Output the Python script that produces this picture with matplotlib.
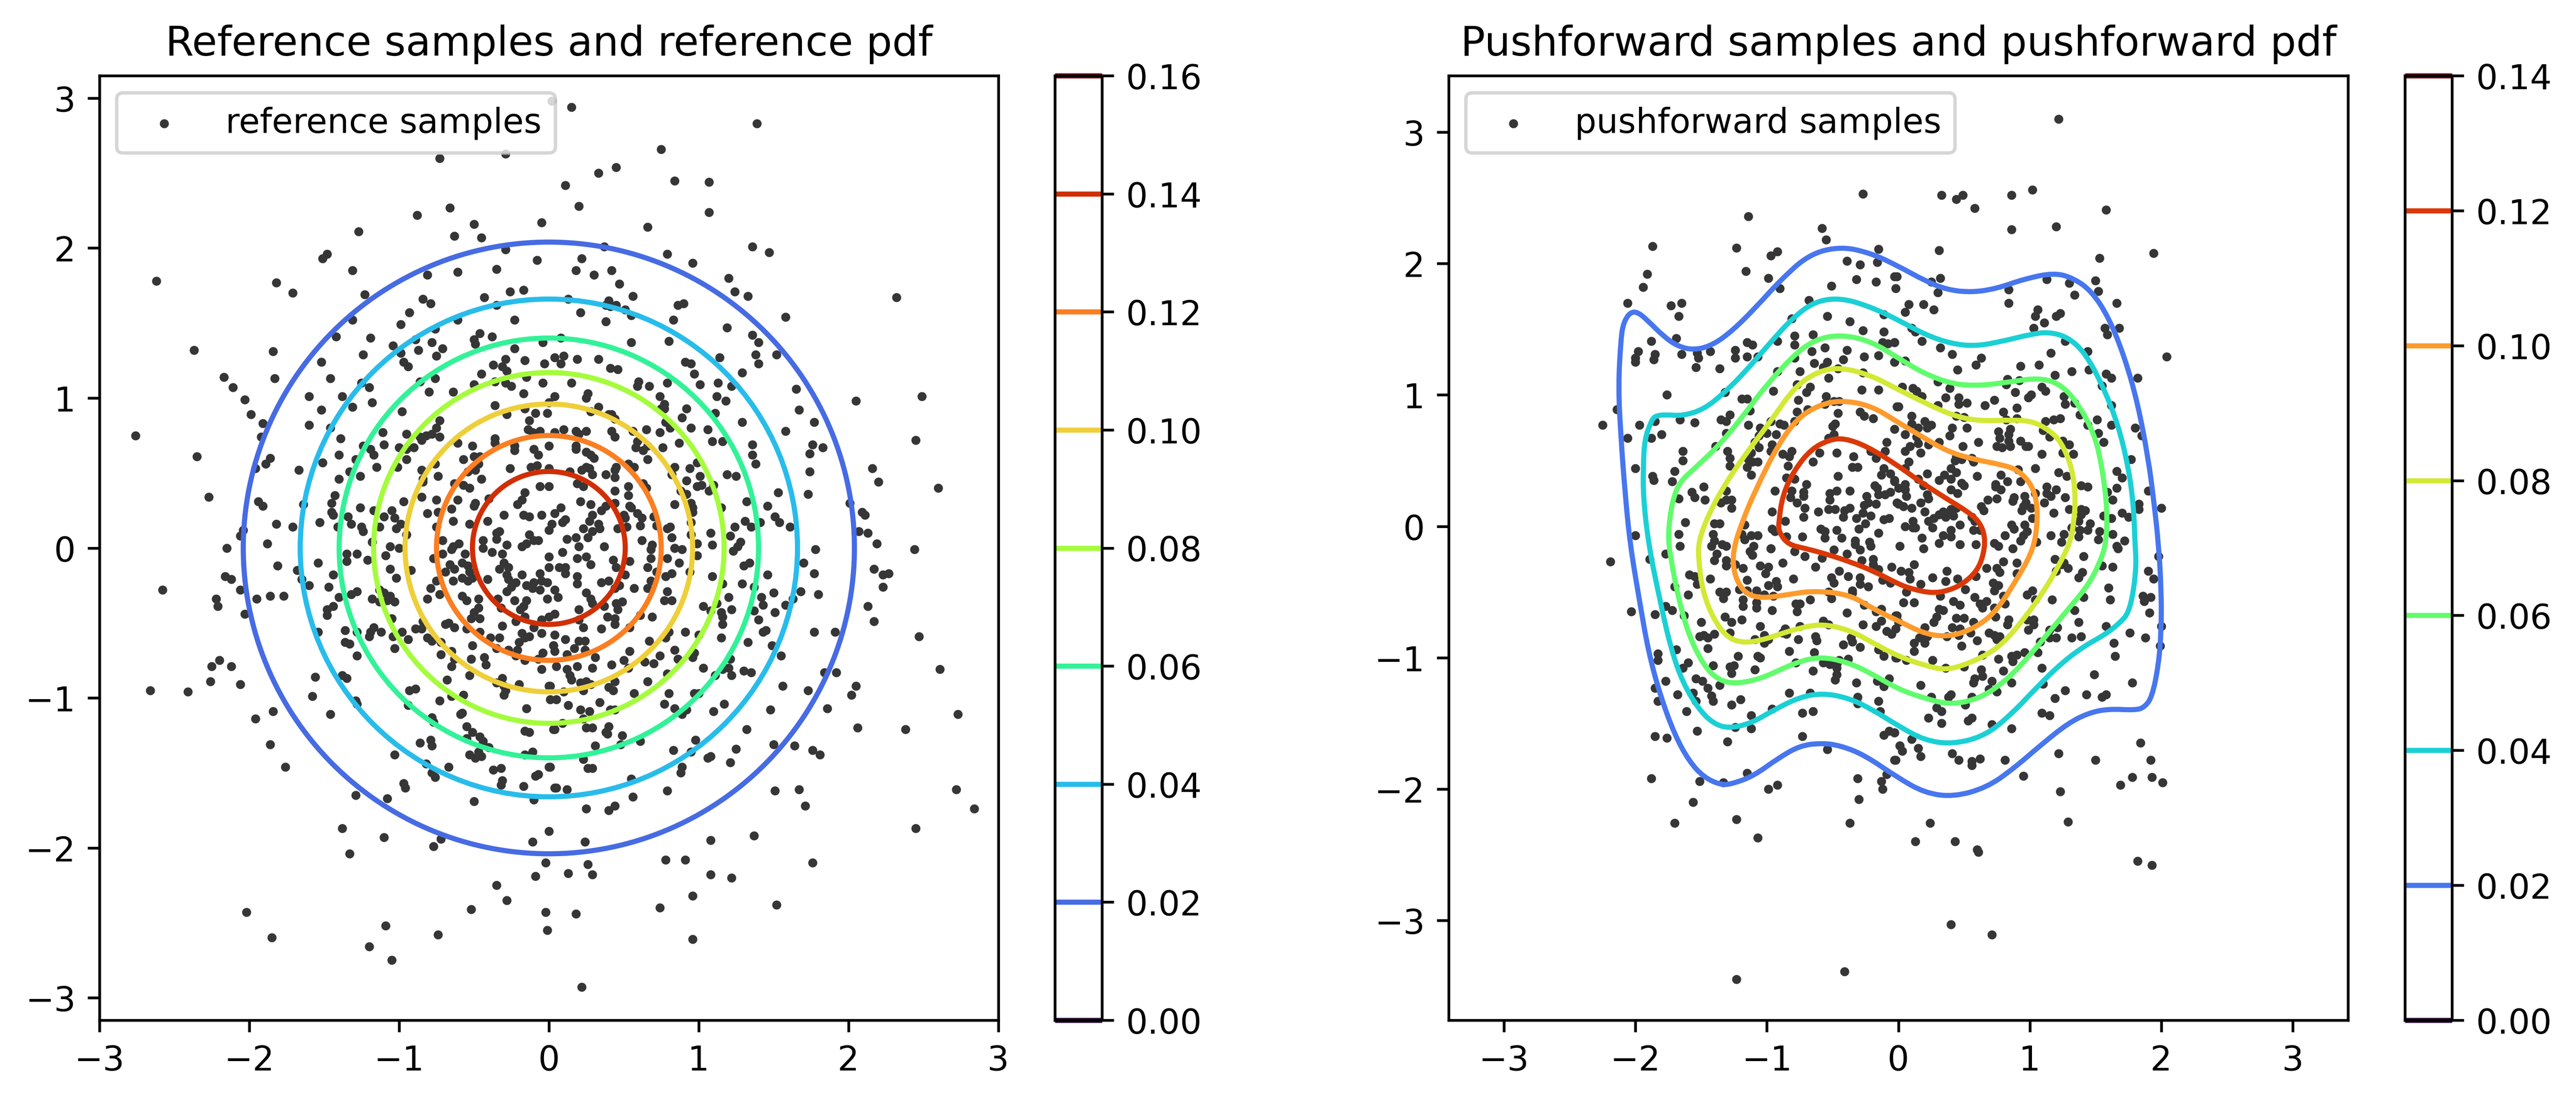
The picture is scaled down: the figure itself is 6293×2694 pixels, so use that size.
import numpy as np
import matplotlib
matplotlib.use('Agg')
import matplotlib.pyplot as plt
from matplotlib.patches import Circle, PathPatch
from matplotlib.path import Path

# contour levels and colourbar ticks
ref_levels = [0.00, 0.02, 0.04, 0.06, 0.08, 0.10, 0.12, 0.14, 0.16]
pf_levels = [0.00, 0.02, 0.04, 0.06, 0.08, 0.10, 0.12, 0.14]
# radius of each reference contour (levels 0.02 .. 0.14)
ref_radii = [2.04, 1.66, 1.40, 1.17, 0.96, 0.75, 0.51]

# reference samples
ref_upper_left = [(-0.73,2.60),(-0.29,2.63),(-0.66,2.27),(-0.88,2.22),(-0.50,2.16),(-0.05,2.17),(-1.27,2.11),(-0.63,2.08),(-0.45,2.07),(-1.48,1.96),(-1.51,1.93),(-0.29,1.99),(-0.08,1.92),(-1.31,1.85),(-0.35,1.86),(-0.61,1.84),(-0.81,1.82),(-2.62,1.78),(-1.82,1.77),(-1.71,1.70),(-1.23,1.69),(-0.84,1.66),(-0.79,1.63),(-0.43,1.67),(-0.26,1.71),(-0.17,1.72),(-0.35,1.62),(-0.93,1.57),(-1.31,1.52),(-0.99,1.49),(-0.61,1.52),(-0.23,1.52),(-0.76,1.46),(-1.42,1.41),(-1.19,1.40),(-0.46,1.43),(-0.38,1.41),(-0.50,1.39),(-0.49,1.36),(-0.89,1.39),(-0.78,1.37),(-0.71,1.33),(-0.04,1.37),(-0.23,1.33),(-2.37,1.32),(-1.84,1.31),(-1.04,1.35),(-0.87,1.32),(-1.24,1.29),(-0.99,1.30),(-0.75,1.28),(-1.52,1.24),(-0.97,1.24),(-0.94,1.21),(-0.29,1.26),(-0.16,1.25),(-0.03,1.23),(-0.37,1.22),(-0.31,1.21),(-0.28,1.18),(-2.17,1.14),(-0.45,1.16),(-1.46,1.13),(-1.83,1.13),(-0.76,1.13),(-0.15,1.14),(-0.86,1.11),(-1.25,1.10),(-0.36,1.11),(-0.29,1.10),(-0.50,1.09),(-0.25,1.08),(-0.04,1.10),(-2.11,1.07),(-1.20,1.07),(-0.80,1.04),(-0.64,1.04),(-0.17,1.03),(-1.60,1.01),(-1.38,1.01),(-2.03,0.99),(-1.52,0.92),(-1.31,0.94),(-1.18,0.97),(0.00,0.97),(-0.36,0.95),(-0.16,0.93),(-0.98,0.91),(-1.99,0.89),(-0.28,0.89),(-0.09,0.90),(-0.01,0.90),(-0.13,0.85),(-0.73,0.85),(-1.91,0.83),(-1.60,0.82),(-0.75,0.80),(-1.46,0.80),(-1.11,0.77),(-0.95,0.76),(-0.14,0.79),(-0.06,0.78),(-0.11,0.77),(-2.76,0.75),(-0.78,0.76),(-0.82,0.75),(-0.86,0.74),(-0.73,0.74),(-0.85,0.72),(-1.92,0.74),(-1.39,0.73),(-0.36,0.73),(-0.36,0.70),(-0.61,0.70),(-1.10,0.69),(-0.51,0.68),(-0.23,0.68),(0.00,0.68),(-1.24,0.68),(-1.00,0.67),(-1.19,0.66),(-0.90,0.67),(-0.23,0.65),(-0.95,0.66),(-0.10,0.66),(-1.17,0.62),(-1.40,0.62),(-2.35,0.61),(-0.07,0.62),(-0.50,0.61),(-0.46,0.61),(-1.86,0.60),(-1.29,0.59),(-0.95,0.59),(-0.57,0.59),(-1.89,0.56),(-1.51,0.57),(-0.76,0.56),(-0.47,0.56),(-1.01,0.54),(-1.15,0.54),(-1.96,0.53),(-0.54,0.51),(-0.49,0.52),(-0.12,0.54),(-0.08,0.55),(0.00,0.53),(-0.26,0.53),(-1.67,0.52),(-0.85,0.52),(-1.33,0.51),(-1.26,0.48),(-0.74,0.48),(-0.45,0.46),(-1.40,0.46),(-0.84,0.46),(-0.84,0.44),(-0.63,0.43),(-0.57,0.42),(-0.53,0.40),(-0.06,0.41),(0.00,0.41),(-1.43,0.35),(-0.16,0.37),(-2.27,0.34),(-0.85,0.34),(-0.40,0.33),(-1.45,0.30),(-1.94,0.31),(-0.75,0.32),(-0.61,0.32),(-0.18,0.32),(-0.97,0.31),(-1.91,0.28),(-1.64,0.29),(-0.49,0.30),(-0.50,0.28),(-0.21,0.29),(-1.26,0.27),(-1.17,0.25),(-1.05,0.25),(-0.65,0.26),(-0.74,0.24),(-1.45,0.24),(-1.44,0.22),(-0.81,0.23),(-0.30,0.22),(-0.17,0.22),(-0.05,0.22),(-0.13,0.21),(-1.34,0.21),(-1.10,0.21),(-1.03,0.20),(-0.64,0.18),(-0.41,0.18),(-1.32,0.16),(-1.82,0.16),(-1.71,0.14),(-1.53,0.17),(-0.99,0.16),(-0.53,0.16),(-1.41,0.14),(-1.13,0.14),(-1.25,0.14),(-1.02,0.13),(-0.75,0.14),(-2.04,0.12),(-1.24,0.11),(-0.33,0.11),(-0.35,0.10),(-0.95,0.09),(0.00,0.12),(-2.06,0.08),(-0.13,0.09),(-0.44,0.05),(-0.35,0.06),(-0.71,0.05),(-0.60,0.03),(-1.88,0.03),(-1.18,0.04),(-1.06,0.01),(-0.15,0.03),(-0.07,0.05),(-0.10,0.05),(-1.00,0.00),(-0.28,0.02),(-0.64,0.01),(-0.18,0.01)]
ref_upper_right = [(0.02,2.98),(0.15,2.94),(1.39,2.83),(0.75,2.66),(0.45,2.54),(0.33,2.50),(0.11,2.42),(0.84,2.45),(1.07,2.44),(0.20,2.28),(1.07,2.24),(0.66,2.14),(1.36,2.01),(1.47,1.97),(0.37,2.01),(0.79,1.96),(0.22,1.93),(0.96,1.90),(0.18,1.85),(0.30,1.82),(0.42,1.85),(1.20,1.80),(0.47,1.76),(1.24,1.71),(0.56,1.68),(1.33,1.68),(2.32,1.67),(0.13,1.66),(0.40,1.65),(0.38,1.62),(0.45,1.62),(0.41,1.61),(0.51,1.59),(0.86,1.62),(0.90,1.63),(0.21,1.57),(0.55,1.55),(1.58,1.54),(0.38,1.51),(0.83,1.52),(1.19,1.47),(1.36,1.42),(0.08,1.40),(0.55,1.37),(0.80,1.38),(1.40,1.37),(1.38,1.29),(1.52,1.29),(1.14,1.27),(0.04,1.27),(0.10,1.28),(0.19,1.26),(0.33,1.26),(0.08,1.23),(0.91,1.24),(0.95,1.23),(1.40,1.23),(0.41,1.20),(0.46,1.19),(1.29,1.17),(0.97,1.16),(0.15,1.10),(0.60,1.11),(0.59,1.08),(0.67,1.08),(0.79,1.10),(1.01,1.09),(1.13,1.10),(1.22,1.08),(1.65,1.06),(0.26,1.03),(0.25,1.00),(0.04,1.01),(0.74,1.01),(1.12,1.01),(2.49,1.01),(2.05,0.98),(1.18,0.98),(0.77,0.96),(0.33,0.94),(0.92,0.93),(0.75,0.93),(0.77,0.93),(1.67,0.92),(0.28,0.91),(1.11,0.90),(0.40,0.89),(0.42,0.89),(0.44,0.86),(0.89,0.87),(1.77,0.84),(1.29,0.84),(0.78,0.84),(0.18,0.78),(0.25,0.78),(0.10,0.79),(0.04,0.77),(0.42,0.78),(0.56,0.78),(0.65,0.79),(0.74,0.77),(0.81,0.80),(0.95,0.80),(1.06,0.79),(1.58,0.78),(0.20,0.76),(0.44,0.74),(1.09,0.71),(1.16,0.71),(2.45,0.72),(0.87,0.70),(0.59,0.71),(1.36,0.69),(1.76,0.69),(0.66,0.68),(1.83,0.67),(0.18,0.68),(0.58,0.67),(0.76,0.67),(0.18,0.66),(0.63,0.65),(0.25,0.64),(0.28,0.62),(1.74,0.63),(0.30,0.60),(1.36,0.62),(0.66,0.59),(1.38,0.56),(0.53,0.56),(0.57,0.54),(0.99,0.57),(0.84,0.54),(0.94,0.53),(2.16,0.53),(0.25,0.54),(0.45,0.54),(0.27,0.53),(0.44,0.52),(0.22,0.52),(0.14,0.51),(1.74,0.51),(0.38,0.49),(0.29,0.49),(0.44,0.47),(0.82,0.49),(1.01,0.48),(1.19,0.49),(1.25,0.48),(0.92,0.45),(2.20,0.44),(0.19,0.43),(0.63,0.43),(1.10,0.42),(1.02,0.42),(0.23,0.41),(0.53,0.41),(0.65,0.40),(0.99,0.41),(0.88,0.38),(1.07,0.38),(0.44,0.38),(2.60,0.40),(1.53,0.37),(0.92,0.36),(1.73,0.36),(0.53,0.35),(0.21,0.31),(0.44,0.30),(0.28,0.29),(1.32,0.31),(2.01,0.30),(0.84,0.29),(0.95,0.30),(0.38,0.28),(0.54,0.28),(0.96,0.27),(0.08,0.27),(1.46,0.28),(1.15,0.27),(0.55,0.27),(0.96,0.24),(0.35,0.25),(2.09,0.24),(0.29,0.22),(0.04,0.23),(0.50,0.22),(0.59,0.23),(2.11,0.22),(0.51,0.20),(0.70,0.21),(1.51,0.21),(0.62,0.20),(0.27,0.18),(0.11,0.19),(0.09,0.17),(1.41,0.17),(1.31,0.18),(0.02,0.16),(1.54,0.17),(0.95,0.17),(0.33,0.16),(0.61,0.15),(0.72,0.15),(0.81,0.14),(0.79,0.13),(0.52,0.14),(1.24,0.14),(1.35,0.14),(1.61,0.14),(0.23,0.13),(0.34,0.13),(0.46,0.13),(2.07,0.11),(2.13,0.10),(0.29,0.11),(1.08,0.10),(0.95,0.09),(1.21,0.08),(0.82,0.07),(0.26,0.07),(0.18,0.07),(0.12,0.06),(0.62,0.05),(2.19,0.03),(1.28,0.04),(0.99,0.03),(0.69,0.02),(1.26,0.01),(1.09,0.02),(0.37,0.01),(0.20,0.01),(0.84,0.00)]
ref_lower_left = [(-2.15,0.00),(-1.35,-0.04),(-1.28,-0.04),(-1.09,-0.05),(-1.35,-0.09),(-1.21,-0.08),(-1.54,-0.10),(-1.81,-0.12),(-0.56,-0.04),(-0.44,0.00),(-0.38,-0.03),(-0.31,-0.04),(-0.77,-0.07),(-0.71,-0.04),(-0.65,-0.01),(0.00,-0.06),(-1.06,-0.14),(-0.66,-0.11),(-0.58,-0.10),(-0.54,-0.12),(-0.30,-0.10),(0.00,-0.13),(-0.63,-0.14),(-0.92,-0.15),(-0.69,-0.16),(-1.68,-0.15),(-0.27,-0.13),(-0.33,-0.14),(-0.53,-0.16),(-1.44,-0.18),(-0.18,-0.18),(-0.06,-0.17),(-0.28,-0.18),(-1.02,-0.20),(-2.16,-0.19),(-2.12,-0.21),(-1.65,-0.21),(-0.58,-0.20),(-0.51,-0.20),(-0.41,-0.21),(-0.64,-0.22),(-0.75,-0.22),(-0.54,-0.22),(-0.27,-0.21),(-0.10,-0.23),(-0.05,-0.22),(-0.01,-0.23),(-0.22,-0.23),(-1.60,-0.25),(-0.15,-0.25),(-0.25,-0.26),(-0.11,-0.27),(-0.06,-0.28),(-1.47,-0.26),(-0.79,-0.27),(-2.06,-0.28),(-2.58,-0.28),(-0.28,-0.29),(-1.28,-0.29),(-1.13,-0.28),(-1.32,-0.31),(-0.73,-0.31),(-1.06,-0.32),(-1.10,-0.30),(-1.86,-0.32),(-1.77,-0.32),(-1.95,-0.34),(-1.40,-0.33),(-2.22,-0.34),(-1.18,-0.34),(-0.81,-0.34),(-0.47,-0.34),(-0.58,-0.32),(-0.55,-0.35),(-0.34,-0.34),(-0.01,-0.34),(-0.15,-0.35),(-0.23,-0.35),(-1.08,-0.35),(-1.13,-0.36),(-1.03,-0.36),(-2.21,-0.39),(-1.44,-0.39),(-1.48,-0.41),(-0.32,-0.40),(-0.47,-0.40),(-0.17,-0.39),(-0.19,-0.41),(-2.03,-0.44),(-0.50,-0.43),(-1.48,-0.45),(-1.05,-0.47),(-0.52,-0.47),(-0.46,-0.47),(-0.16,-0.46),(0.00,-0.46),(-0.22,-0.49),(-0.05,-0.48),(-0.84,-0.49),(-0.69,-0.51),(-0.67,-0.50),(-0.31,-0.52),(-0.63,-0.53),(-0.55,-0.54),(-0.10,-0.53),(-0.85,-0.54),(-0.89,-0.54),(-1.17,-0.53),(-1.36,-0.55),(-1.19,-0.56),(-1.28,-0.56),(-1.54,-0.56),(-1.12,-0.56),(-0.98,-0.56),(-0.46,-0.56),(-0.18,-0.57),(-0.05,-0.57),(-1.20,-0.59),(-1.04,-0.59),(-0.13,-0.59),(-0.81,-0.60),(-0.78,-0.62),(-0.94,-0.61),(-0.39,-0.60),(-0.33,-0.60),(-0.16,-0.60),(-1.36,-0.63),(-1.33,-0.64),(-0.72,-0.63),(-0.20,-0.63),(-0.51,-0.65),(0.03,-0.65),(-1.03,-0.67),(-0.35,-0.67),(-0.21,-0.68),(-0.65,-0.69),(-0.27,-0.68),(-0.04,-0.70),(-1.28,-0.72),(-0.72,-0.71),(-0.22,-0.72),(-0.43,-0.73),(-0.63,-0.74),(-0.52,-0.74),(-0.16,-0.75),(-0.07,-0.74),(-2.20,-0.75),(-2.25,-0.79),(-2.12,-0.79),(-0.42,-0.78),(-0.65,-0.79),(-0.05,-0.81),(-1.38,-0.85),(-0.53,-0.85),(-1.56,-0.86),(-1.35,-0.87),(-0.31,-0.87),(-0.68,-0.88),(-2.26,-0.89),(-0.35,-0.90),(-0.20,-0.91),(-2.06,-0.91),(0.00,-0.92),(-0.30,-0.92),(-0.89,-0.94),(-0.93,-0.95),(-2.66,-0.95),(-2.41,-0.96),(-0.29,-0.95),(-0.30,-0.98),(-1.58,-0.99),(-0.65,-0.99),(-0.57,-0.98),(-1.29,-1.02),(-0.73,-1.02),(-1.28,-1.04),(-0.94,-1.05),(-0.15,-1.07),(0.01,-1.01),(-1.46,-1.11),(-0.58,-1.10),(-0.59,-1.11),(-0.78,-1.13),(-1.84,-1.09),(-1.96,-1.14),(-0.77,-1.16),(-0.55,-1.19),(0.03,-1.21),(-0.16,-1.22),(-0.13,-1.23),(-0.51,-1.23),(-0.46,-1.26),(-0.79,-1.28),(-0.86,-1.30),(-0.55,-1.27),(-0.44,-1.29),(-0.78,-1.32),(-1.86,-1.31),(-0.40,-1.33),(-0.11,-1.36),(-0.47,-1.36),(-0.16,-1.38),(-0.53,-1.38),(-1.03,-1.38),(-0.45,-1.39),(-0.49,-1.40),(-0.82,-1.44),(-0.67,-1.46),(-1.76,-1.46),(0.00,-1.46),(-0.32,-1.47),(-0.37,-1.48),(-0.78,-1.50),(-0.76,-1.53),(-0.07,-1.51),(-0.09,-1.52),(-0.31,-1.55),(-0.97,-1.57),(-0.32,-1.58),(-0.17,-1.59),(-0.96,-1.60),(0.04,-1.60),(-1.29,-1.65),(-1.08,-1.67),(-0.10,-1.68),(-0.50,-1.69),(-1.38,-1.87),(0.00,-1.89),(-1.10,-1.93),(-0.72,-1.94),(-0.11,-1.96),(-0.77,-1.99),(-1.33,-2.04),(-0.02,-2.10),(-0.09,-2.19),(-0.35,-2.25),(-0.28,-2.35),(-0.52,-2.41),(-2.02,-2.43),(-0.02,-2.43),(-1.09,-2.52),(-0.01,-2.55),(-0.74,-2.58),(-1.85,-2.60),(-1.20,-2.66),(-1.05,-2.75)]
ref_lower_right = [(1.78,-0.01),(2.44,-0.01),(0.09,-0.03),(0.25,-0.06),(0.19,-0.07),(0.43,-0.08),(0.68,-0.01),(0.68,-0.07),(0.79,-0.07),(0.87,-0.10),(0.84,0.00),(0.89,-0.01),(0.99,-0.05),(1.23,-0.02),(1.70,-0.10),(0.28,-0.11),(0.54,-0.09),(0.07,-0.13),(0.11,-0.13),(0.45,-0.13),(0.66,-0.13),(1.34,-0.10),(1.30,-0.12),(2.17,-0.14),(0.11,-0.17),(0.19,-0.19),(0.72,-0.16),(0.82,-0.17),(0.78,-0.19),(0.94,-0.16),(1.46,-0.18),(1.77,-0.17),(2.27,-0.17),(2.23,-0.18),(1.09,-0.19),(0.51,-0.18),(0.40,-0.22),(0.35,-0.23),(0.68,-0.22),(0.19,-0.24),(1.16,-0.24),(1.29,-0.24),(1.37,-0.26),(2.23,-0.26),(0.47,-0.25),(0.44,-0.27),(0.57,-0.27),(0.66,-0.27),(0.04,-0.28),(0.25,-0.30),(0.79,-0.29),(1.50,-0.30),(1.68,-0.29),(0.06,-0.33),(0.28,-0.34),(1.20,-0.33),(1.42,-0.33),(1.80,-0.31),(0.77,-0.35),(0.82,-0.35),(0.49,-0.36),(0.45,-0.37),(0.29,-0.37),(1.12,-0.37),(1.63,-0.34),(1.43,-0.38),(1.58,-0.38),(2.13,-0.39),(1.03,-0.39),(0.37,-0.39),(1.22,-0.41),(0.20,-0.41),(0.46,-0.41),(1.37,-0.42),(1.51,-0.43),(1.08,-0.42),(1.15,-0.43),(0.04,-0.44),(1.16,-0.46),(0.61,-0.45),(0.69,-0.46),(0.39,-0.46),(0.44,-0.47),(1.40,-0.48),(0.20,-0.48),(2.17,-0.49),(0.44,-0.51),(1.16,-0.51),(0.23,-0.53),(0.35,-0.54),(0.54,-0.53),(1.45,-0.55),(1.43,-0.56),(1.77,-0.56),(1.91,-0.56),(0.91,-0.56),(0.80,-0.56),(0.04,-0.58),(2.47,-0.59),(0.78,-0.60),(1.00,-0.58),(1.15,-0.60),(0.11,-0.61),(0.20,-0.62),(0.24,-0.62),(0.67,-0.62),(1.33,-0.63),(0.03,-0.65),(1.49,-0.65),(0.17,-0.67),(0.24,-0.68),(0.84,-0.68),(0.54,-0.69),(0.04,-0.69),(0.97,-0.70),(0.12,-0.71),(1.55,-0.72),(0.74,-0.72),(0.96,-0.73),(0.31,-0.73),(0.86,-0.74),(0.50,-0.75),(1.21,-0.74),(0.64,-0.76),(0.42,-0.78),(0.70,-0.77),(0.05,-0.79),(2.61,-0.81),(0.19,-0.79),(0.12,-0.81),(0.29,-0.80),(1.20,-0.80),(1.16,-0.81),(0.53,-0.80),(1.03,-0.80),(1.92,-0.83),(1.30,-0.82),(1.35,-0.83),(1.84,-0.83),(0.79,-0.84),(1.22,-0.85),(1.11,-0.85),(0.14,-0.85),(0.15,-0.88),(0.44,-0.89),(0.66,-0.89),(0.25,-0.89),(0.21,-0.90),(0.28,-0.91),(0.01,-0.92),(0.40,-0.93),(2.05,-0.92),(0.43,-0.95),(0.23,-0.95),(1.56,-0.92),(1.73,-0.95),(0.10,-0.96),(0.80,-0.97),(0.57,-0.97),(2.02,-0.98),(0.97,-0.97),(1.00,-0.97),(0.05,-1.01),(0.34,-1.03),(0.77,-1.04),(0.13,-1.05),(1.17,-1.04),(1.86,-1.07),(0.84,-1.07),(0.92,-1.08),(0.21,-1.08),(1.10,-1.09),(1.48,-1.08),(0.41,-1.08),(0.44,-1.08),(0.27,-1.09),(0.89,-1.11),(2.73,-1.11),(0.23,-1.14),(0.09,-1.17),(0.25,-1.20),(0.29,-1.20),(0.04,-1.21),(0.40,-1.19),(2.06,-1.20),(2.38,-1.21),(1.32,-1.21),(0.38,-1.23),(0.39,-1.24),(0.49,-1.25),(0.61,-1.29),(0.98,-1.28),(0.31,-1.32),(0.48,-1.31),(1.50,-1.31),(1.64,-1.32),(0.83,-1.35),(1.25,-1.34),(0.95,-1.36),(1.76,-1.35),(1.81,-1.38),(1.08,-1.39),(1.06,-1.40),(0.23,-1.41),(1.21,-1.43),(0.01,-1.46),(0.89,-1.46),(0.29,-1.47),(0.26,-1.47),(0.88,-1.50),(0.55,-1.54),(0.05,-1.60),(0.12,-1.61),(2.72,-1.61),(1.51,-1.62),(1.67,-1.61),(0.79,-1.62),(0.56,-1.66),(1.71,-1.72),(0.44,-1.72),(0.25,-1.74),(0.40,-1.75),(2.84,-1.74),(2.45,-1.87),(1.37,-1.92),(1.08,-1.95),(0.24,-1.96),(0.91,-2.08),(0.78,-2.08),(1.76,-2.10),(0.26,-2.11),(0.13,-2.17),(0.29,-2.18),(1.08,-2.18),(1.22,-2.20),(0.96,-2.32),(0.74,-2.40),(1.52,-2.38),(0.18,-2.44),(0.96,-2.61),(0.22,-2.93)]

# pushforward samples
pf_upper_left = [(-0.27,2.53),(-1.14,2.36),(-0.58,2.27),(-0.55,2.18),(-1.87,2.13),(-1.23,2.12),(-0.92,2.09),(-0.97,2.06),(-0.15,2.11),(-0.39,2.02),(-0.29,1.99),(-0.16,2.01),(-1.91,1.92),(-1.16,1.94),(-0.99,1.89),(-0.03,1.90),(-0.32,1.88),(-0.17,1.86),(-1.94,1.82),(-0.90,1.81),(-0.51,1.83),(-0.02,1.81),(-2.06,1.70),(-1.73,1.68),(-1.65,1.70),(-0.68,1.72),(-1.67,1.60),(-0.11,1.61),(-0.54,1.60),(-0.81,1.58),(-0.37,1.56),(-0.27,1.49),(-0.11,1.48),(-0.65,1.46),(-0.79,1.45),(-1.69,1.43),(-1.88,1.41),(-0.92,1.41),(-0.79,1.38),(-1.15,1.40),(-1.11,1.38),(-0.12,1.40),(-0.08,1.39),(-0.03,1.40),(-1.24,1.34),(-1.98,1.33),(-1.53,1.32),(-1.43,1.33),(-0.56,1.36),(-0.39,1.34),(-1.85,1.31),(-1.65,1.31),(-0.66,1.33),(-2.00,1.28),(-1.52,1.28),(-1.15,1.29),(-1.07,1.29),(-1.24,1.28),(-0.26,1.29),(-0.15,1.30),(-0.79,1.28),(-1.86,1.27),(-2.00,1.25),(-0.42,1.27),(-0.03,1.25),(-0.54,1.25),(-0.64,1.24),(-1.54,1.21),(-1.36,1.20),(-0.57,1.21),(-0.46,1.20),(-0.75,1.18),(-0.92,1.18),(-0.27,1.17),(-0.53,1.13),(-0.77,1.08),(-0.67,1.06),(-0.95,1.03),(-0.70,1.02),(-0.28,1.04),(-0.15,1.04),(-1.32,1.02),(-1.76,1.00),(-0.55,0.99),(-1.19,0.97),(-1.15,0.97),(-0.76,0.96),(-0.56,0.93),(-0.49,0.95),(-0.45,0.95),(-0.01,0.91),(-2.14,0.89),(-0.69,0.89),(-1.13,0.88),(-0.77,0.87),(-0.29,0.87),(-1.28,0.85),(-0.46,0.86),(-0.26,0.84),(-1.85,0.80),(-1.66,0.81),(-1.55,0.79),(-1.35,0.81),(-1.31,0.80),(-0.97,0.80),(-0.79,0.80),(-0.19,0.82),(-2.25,0.77),(-1.97,0.77),(-1.14,0.77),(-0.90,0.78),(-0.87,0.77),(-0.48,0.78),(-1.05,0.75),(-0.50,0.76),(-0.03,0.74),(-1.80,0.70),(-1.31,0.71),(-1.00,0.71),(-0.93,0.70),(-1.06,0.69),(-0.49,0.70),(-2.06,0.67),(-1.88,0.67),(-0.53,0.67),(-0.09,0.64),(-1.09,0.64),(-1.39,0.61),(-0.96,0.62),(-1.06,0.60),(-0.97,0.57),(-1.64,0.57),(-1.30,0.57),(-1.12,0.56),(-0.60,0.56),(-0.47,0.56),(-0.21,0.57),(-0.81,0.57),(-0.88,0.55),(-0.10,0.57),(-0.83,0.53),(-0.34,0.53),(-0.17,0.52),(-1.28,0.52),(-1.64,0.50),(-1.14,0.51),(-1.07,0.49),(-1.11,0.49),(-0.65,0.49),(-0.84,0.46),(-1.28,0.46),(-1.15,0.45),(-0.31,0.45),(-0.35,0.45),(-2.00,0.44),(-0.11,0.44),(-1.70,0.42),(-0.13,0.39),(-1.12,0.39),(-0.06,0.40),(-0.46,0.38),(-1.87,0.38),(-0.85,0.37),(-0.79,0.36),(-1.86,0.35),(-1.72,0.34),(-0.03,0.34),(-0.70,0.32),(-1.48,0.30),(-0.18,0.31),(-0.16,0.29),(-1.31,0.27),(-1.57,0.26),(-0.94,0.27),(-0.81,0.27),(-0.72,0.26),(-0.47,0.27),(-0.37,0.27),(-0.52,0.25),(-0.15,0.24),(-0.10,0.24),(-0.06,0.26),(-1.55,0.22),(-1.67,0.21),(-0.82,0.22),(-0.72,0.23),(-0.24,0.23),(-1.47,0.20),(-0.52,0.20),(-1.27,0.20),(-1.31,0.20),(-0.77,0.18),(-1.35,0.18),(-0.23,0.18),(-0.26,0.16),(-0.17,0.17),(-0.01,0.18),(-1.27,0.14),(-0.71,0.14),(-0.53,0.13),(-0.48,0.13),(-0.37,0.14),(-0.41,0.12),(-0.96,0.11),(-0.61,0.11),(-0.27,0.10),(-0.21,0.08),(-0.42,0.07),(-0.72,0.07),(-0.32,0.06),(-0.11,0.05),(-0.07,0.06),(-0.86,0.04),(-1.62,0.03),(-1.40,0.02),(-1.36,0.02),(-0.25,0.02),(-0.30,-0.02),(-1.17,0.01),(-0.96,-0.02),(-0.59,-0.02),(-0.47,-0.03),(-0.15,-0.05),(-1.67,-0.06),(-0.94,-0.04),(-1.41,-0.06),(-0.56,-0.04),(-2.00,-0.07),(-1.19,-0.06),(-1.07,-0.07),(-1.12,-0.07),(-0.85,-0.08),(-0.73,-0.08),(-0.56,-0.09),(-0.43,-0.09),(-1.17,-0.10),(-1.40,-0.11),(-0.33,-0.11),(-0.22,-0.12),(-1.66,-0.15),(-1.34,-0.14),(-1.31,-0.15),(-1.10,-0.15),(-1.42,-0.15),(-0.97,-0.17),(-0.33,-0.14),(-0.21,-0.15)]
pf_upper_right = [(1.22,3.10),(1.02,2.56),(0.33,2.52),(0.49,2.52),(0.44,2.49),(0.86,2.52),(0.58,2.42),(1.58,2.41),(0.86,2.26),(1.20,2.28),(0.31,2.10),(1.94,2.08),(1.53,2.04),(0.32,1.89),(0.25,1.86),(1.50,1.87),(1.13,1.88),(1.30,1.85),(-0.01,1.90),(0.30,1.78),(0.84,1.80),(1.52,1.79),(1.34,1.76),(0.84,1.70),(1.66,1.70),(0.08,1.69),(0.19,1.69),(0.27,1.65),(1.06,1.65),(0.05,1.63),(1.23,1.62),(1.04,1.60),(1.20,1.60),(1.11,1.55),(1.03,1.51),(1.57,1.51),(1.68,1.51),(0.10,1.51),(0.13,1.48),(1.59,1.46),(0.18,1.41),(1.27,1.41),(-0.03,1.40),(0.32,1.36),(1.44,1.33),(1.16,1.32),(0.41,1.31),(2.04,1.29),(0.63,1.28),(0.05,1.26),(0.59,1.23),(0.93,1.22),(1.07,1.23),(-0.03,1.25),(0.45,1.19),(1.45,1.19),(1.32,1.18),(1.58,1.16),(1.19,1.15),(1.62,1.13),(1.82,1.13),(0.83,1.12),(0.30,1.10),(0.92,1.11),(0.82,1.08),(1.55,1.07),(0.39,1.05),(1.09,1.06),(0.03,1.06),(0.11,1.05),(0.14,1.03),(1.12,1.03),(0.89,1.02),(0.18,0.99),(1.26,0.99),(1.01,1.00),(0.36,0.98),(0.46,0.98),(0.99,0.98),(0.73,0.96),(0.52,0.94),(0.46,0.93),(1.27,0.93),(1.34,0.94),(0.66,0.92),(0.30,0.92),(1.62,0.92),(0.90,0.90),(0.00,0.91),(0.80,0.87),(1.38,0.85),(0.44,0.84),(0.10,0.84),(0.50,0.83),(1.51,0.81),(0.20,0.80),(0.90,0.82),(0.82,0.81),(1.23,0.82),(1.18,0.81),(1.12,0.80),(0.10,0.78),(1.44,0.77),(1.62,0.77),(0.25,0.77),(0.22,0.75),(0.15,0.75),(1.80,0.75),(0.41,0.75),(0.52,0.75),(0.85,0.74),(1.10,0.73),(0.76,0.72),(1.85,0.69),(0.84,0.70),(0.05,0.70),(0.39,0.69),(1.52,0.71),(1.15,0.68),(0.14,0.68),(0.77,0.67),(0.84,0.65),(1.56,0.64),(1.25,0.65),(0.93,0.65),(0.61,0.64),(0.31,0.64),(0.15,0.63),(1.30,0.62),(0.09,0.61),(0.23,0.62),(0.75,0.61),(0.79,0.60),(0.85,0.61),(0.49,0.61),(0.97,0.61),(0.99,0.61),(0.05,0.57),(1.09,0.55),(0.17,0.56),(1.25,0.56),(1.33,0.55),(0.44,0.53),(0.56,0.52),(0.48,0.51),(0.43,0.50),(0.57,0.49),(1.77,0.51),(0.08,0.49),(1.04,0.44),(0.40,0.44),(0.05,0.44),(0.91,0.43),(0.44,0.41),(1.22,0.41),(1.66,0.42),(0.22,0.40),(0.60,0.38),(1.70,0.37),(1.28,0.38),(0.35,0.39),(0.78,0.39),(0.40,0.36),(0.15,0.36),(0.93,0.34),(0.31,0.35),(0.83,0.34),(0.05,0.32),(-0.03,0.35),(0.48,0.33),(0.50,0.31),(0.74,0.32),(0.19,0.31),(1.39,0.31),(1.44,0.30),(0.74,0.30),(0.00,0.29),(1.13,0.30),(1.66,0.29),(0.78,0.28),(0.40,0.28),(1.20,0.28),(0.05,0.28),(1.90,0.27),(0.45,0.25),(1.59,0.26),(1.04,0.25),(0.22,0.24),(1.13,0.25),(0.06,0.23),(1.16,0.23),(0.88,0.22),(0.96,0.23),(1.27,0.22),(0.23,0.21),(0.68,0.20),(0.75,0.21),(1.63,0.20),(0.87,0.19),(1.11,0.18),(0.17,0.18),(0.00,0.17),(0.97,0.18),(1.83,0.17),(0.04,0.15),(0.10,0.14),(0.44,0.14),(0.95,0.15),(1.01,0.14),(2.00,0.14),(1.83,0.13),(0.63,0.15),(1.30,0.13),(1.39,0.13),(0.40,0.13),(0.94,0.12),(0.34,0.11),(1.42,0.12),(0.20,0.11),(0.37,0.10),(0.65,0.12),(1.70,0.10),(1.18,0.10),(0.31,0.09),(0.42,0.08),(0.56,0.07),(1.56,0.08),(1.75,0.07),(0.36,0.07),(1.62,0.06),(1.39,0.09),(1.02,0.06),(0.58,0.04),(0.27,0.06),(0.11,0.04),(0.23,0.04),(1.37,0.04),(1.46,0.02),(0.96,0.01),(0.86,0.01),(0.05,0.00),(0.47,0.01),(0.11,-0.01),(0.26,-0.01),(1.32,-0.01),(0.13,-0.01),(0.88,-0.02),(1.44,-0.03),(0.98,-0.04),(0.57,-0.03),(0.40,-0.03),(1.38,-0.03),(0.62,-0.03),(1.53,-0.04),(1.63,-0.06),(0.95,-0.07),(0.81,-0.07),(0.40,-0.08),(1.26,-0.06),(0.34,-0.07),(1.16,-0.07),(1.37,-0.08),(1.52,-0.10),(0.18,-0.09),(1.72,-0.11),(0.93,-0.11),(0.73,-0.13),(0.31,-0.13),(0.47,-0.14),(1.05,-0.12),(1.24,-0.12),(0.59,-0.14),(1.66,-0.15),(0.01,-0.15),(0.19,-0.17),(0.76,-0.15),(0.87,-0.17)]
pf_lower_left = [(-2.19,-0.27),(-1.89,-0.25),(-1.77,-0.21),(-1.38,-0.21),(-1.40,-0.26),(-1.31,-0.26),(-1.13,-0.19),(-1.11,-0.22),(-0.88,-0.28),(-0.71,-0.23),(-0.58,-0.24),(-0.97,-0.17),(-0.79,-0.19),(-0.29,-0.18),(-0.49,-0.18),(-0.39,-0.21),(-1.31,-0.30),(-1.24,-0.29),(-1.18,-0.32),(-1.05,-0.30),(-0.99,-0.31),(-0.63,-0.31),(-0.28,-0.26),(-0.19,-0.25),(-0.19,-0.29),(-1.01,-0.36),(-0.45,-0.34),(-0.15,-0.33),(-0.05,-0.31),(-1.59,-0.37),(-1.55,-0.38),(-0.38,-0.38),(-0.29,-0.39),(-1.43,-0.40),(-0.80,-0.40),(-1.15,-0.41),(-0.51,-0.39),(-0.49,-0.43),(-0.12,-0.41),(-0.06,-0.43),(-0.29,-0.44),(-1.53,-0.44),(-0.93,-0.42),(-1.70,-0.46),(-0.99,-0.45),(-0.92,-0.46),(-0.23,-0.46),(-1.21,-0.48),(-1.08,-0.49),(-1.15,-0.49),(-0.35,-0.49),(-1.60,-0.52),(-1.36,-0.50),(-1.31,-0.50),(-0.53,-0.50),(-0.35,-0.51),(-1.02,-0.52),(-0.95,-0.53),(-1.33,-0.55),(-0.67,-0.56),(-1.18,-0.56),(-1.08,-0.58),(-0.51,-0.55),(-0.78,-0.59),(-0.75,-0.59),(-1.18,-0.61),(-2.03,-0.65),(-1.77,-0.61),(-1.72,-0.64),(-1.08,-0.62),(-0.26,-0.60),(-0.96,-0.64),(-0.13,-0.63),(-1.85,-0.67),(-0.77,-0.65),(-0.39,-0.66),(-0.17,-0.65),(-1.63,-0.68),(-1.32,-0.69),(-0.02,-0.68),(-1.19,-0.71),(-1.50,-0.73),(-1.27,-0.73),(-0.13,-0.72),(-0.27,-0.75),(-0.17,-0.76),(-1.05,-0.76),(-0.75,-0.76),(-0.57,-0.72),(-0.53,-0.75),(-0.02,-0.78),(-0.86,-0.78),(-0.09,-0.80),(-1.28,-0.81),(-0.88,-0.81),(-0.85,-0.82),(-0.05,-0.82),(-1.40,-0.82),(-1.48,-0.83),(-1.51,-0.84),(-1.45,-0.85),(-1.02,-0.83),(-0.63,-0.84),(-0.36,-0.85),(-0.99,-0.86),(-0.76,-0.86),(-1.09,-0.86),(-0.62,-0.87),(-0.35,-0.88),(-1.02,-0.89),(-0.42,-0.90),(-0.29,-0.92),(-1.45,-0.93),(-1.69,-0.94),(-0.15,-0.94),(-0.83,-0.95),(-0.64,-0.96),(-1.83,-0.97),(-1.22,-0.99),(-0.11,-0.99),(-1.07,-0.99),(-1.05,-1.00),(-0.02,-1.00),(-1.83,-1.02),(-0.38,-1.01),(-0.45,-1.02),(-0.57,-1.04),(-0.52,-1.05),(-0.47,-1.05),(-1.60,-1.04),(-0.78,-1.04),(-1.64,-1.08),(-1.41,-1.06),(-1.25,-1.06),(-1.28,-1.07),(-0.47,-1.08),(-1.09,-1.09),(-0.65,-1.10),(-1.27,-1.12),(-0.47,-1.13),(-1.54,-1.16),(-0.48,-1.17),(-1.49,-1.18),(-1.77,-1.18),(-0.07,-1.16),(-0.32,-1.19),(-0.16,-1.18),(-1.36,-1.21),(-0.11,-1.22),(-1.85,-1.23),(-1.45,-1.23),(-1.56,-1.27),(-0.83,-1.27),(-0.67,-1.27),(-1.68,-1.28),(-1.42,-1.29),(-0.31,-1.30),(-1.83,-1.33),(-1.41,-1.33),(-1.20,-1.32),(-1.54,-1.33),(-0.15,-1.33),(-0.31,-1.35),(-1.27,-1.36),(-0.96,-1.39),(-1.61,-1.41),(-0.73,-1.42),(-0.65,-1.41),(-0.14,-1.41),(-1.12,-1.44),(-1.24,-1.53),(-1.12,-1.54),(-1.53,-1.56),(-0.07,-1.56),(-0.03,-1.57),(-0.11,-1.59),(-1.85,-1.60),(-1.76,-1.61),(-0.73,-1.60),(-1.30,-1.64),(0.01,-1.67),(-0.54,-1.70),(-0.03,-1.78),(-1.15,-1.88),(-0.09,-1.89),(-0.31,-1.92),(-1.88,-1.92),(-1.51,-1.94),(-1.33,-1.95),(-0.13,-1.94),(-0.92,-1.97),(-0.99,-2.00),(-0.12,-2.00),(-0.30,-2.08),(-1.56,-2.10),(-1.23,-2.23),(-1.70,-2.26),(-0.37,-2.26),(-1.07,-2.37),(-0.41,-3.39),(-1.23,-3.45)]
pf_lower_right = [(1.98,-0.23),(1.67,-0.17),(1.41,-0.23),(1.19,-0.25),(1.26,-0.28),(1.24,-0.29),(0.90,-0.28),(0.80,-0.27),(0.12,-0.29),(1.55,-0.30),(1.63,-0.31),(1.29,-0.32),(0.67,-0.32),(0.75,-0.32),(0.77,-0.35),(0.37,-0.34),(0.08,-0.35),(0.02,-0.34),(1.20,-0.34),(1.90,-0.34),(1.40,-0.35),(1.37,-0.39),(0.59,-0.38),(0.90,-0.36),(0.26,-0.39),(0.45,-0.40),(1.94,-0.40),(0.09,-0.40),(0.36,-0.42),(0.17,-0.44),(0.72,-0.43),(0.76,-0.45),(0.51,-0.48),(1.60,-0.47),(0.73,-0.49),(1.02,-0.49),(0.06,-0.50),(0.32,-0.53),(0.98,-0.52),(1.41,-0.54),(1.61,-0.56),(1.86,-0.53),(1.92,-0.54),(1.87,-0.57),(0.80,-0.53),(0.58,-0.54),(0.04,-0.58),(1.04,-0.56),(1.17,-0.56),(0.42,-0.57),(0.67,-0.57),(0.62,-0.59),(0.81,-0.59),(0.47,-0.60),(0.12,-0.58),(0.64,-0.62),(0.73,-0.62),(1.34,-0.64),(0.31,-0.63),(0.34,-0.64),(1.91,-0.66),(-0.01,-0.68),(0.29,-0.69),(0.74,-0.69),(0.44,-0.70),(0.50,-0.70),(0.84,-0.71),(1.03,-0.71),(0.98,-0.71),(0.57,-0.73),(0.27,-0.73),(1.37,-0.73),(1.03,-0.75),(0.83,-0.75),(0.00,-0.73),(2.00,-0.76),(1.58,-0.76),(0.41,-0.77),(0.47,-0.78),(0.20,-0.77),(0.99,-0.79),(1.21,-0.77),(1.15,-0.79),(0.55,-0.81),(0.69,-0.81),(1.76,-0.81),(0.73,-0.83),(0.37,-0.84),(0.46,-0.83),(0.22,-0.84),(0.77,-0.84),(1.20,-0.85),(0.16,-0.85),(1.32,-0.85),(1.39,-0.84),(1.88,-0.85),(1.15,-0.85),(0.75,-0.86),(0.60,-0.87),(1.08,-0.88),(1.64,-0.89),(0.12,-0.89),(0.20,-0.89),(0.48,-0.91),(1.99,-0.91),(0.12,-0.95),(1.06,-0.96),(0.96,-0.96),(0.90,-0.98),(0.64,-0.98),(0.86,-0.99),(1.65,-0.99),(-0.01,-1.00),(0.76,-1.01),(0.26,-1.02),(0.06,-1.02),(0.87,-1.03),(0.63,-1.09),(1.09,-1.08),(0.50,-1.07),(0.36,-1.08),(0.80,-1.10),(1.49,-1.13),(0.64,-1.14),(0.58,-1.16),(0.71,-1.18),(0.86,-1.19),(0.57,-1.19),(0.17,-1.21),(1.10,-1.20),(1.78,-1.19),(0.69,-1.24),(0.75,-1.26),(1.27,-1.25),(0.40,-1.28),(0.25,-1.30),(0.38,-1.30),(1.43,-1.28),(1.58,-1.28),(1.55,-1.30),(0.56,-1.30),(1.19,-1.31),(0.51,-1.36),(0.29,-1.38),(0.33,-1.41),(0.23,-1.46),(0.56,-1.46),(0.53,-1.48),(0.33,-1.50),(1.09,-1.42),(1.15,-1.44),(0.71,-1.51),(0.86,-1.54),(-0.03,-1.57),(0.10,-1.62),(0.15,-1.69),(0.01,-1.67),(0.03,-1.71),(1.84,-1.65),(1.22,-1.73),(0.41,-1.73),(0.17,-1.75),(1.92,-1.78),(1.50,-1.78),(0.62,-1.77),(0.56,-1.79),(0.46,-1.78),(0.81,-1.78),(-0.02,-1.78),(0.56,-1.82),(0.95,-1.90),(1.78,-1.91),(1.93,-1.91),(2.01,-1.95),(1.69,-1.97),(1.23,-2.02),(0.24,-2.26),(1.29,-2.25),(0.13,-2.40),(0.43,-2.40),(0.60,-2.46),(0.61,-2.48),(1.82,-2.55),(1.93,-2.58),(0.40,-3.03),(0.71,-3.11)]

# pushforward contour outlines, level 0.02 .. 0.12
pf_contour_002 = [(-2.04,1.63),(-1.98,1.63),(-1.90,1.56),(-1.79,1.45),(-1.68,1.37),(-1.55,1.34),(-1.41,1.38),(-1.26,1.49),(-1.08,1.67),(-0.90,1.87),(-0.68,2.07),(-0.44,2.13),(-0.21,2.08),(0.00,1.98),(0.20,1.87),(0.37,1.80),(0.56,1.78),(0.75,1.81),(0.95,1.88),(1.18,1.93),(1.33,1.89),(1.47,1.79),(1.60,1.59),(1.72,1.29),(1.82,0.94),(1.90,0.52),(1.94,0.22),(1.98,-0.14),(2.00,-0.49),(2.00,-0.79),(1.98,-1.05),(1.93,-1.30),(1.87,-1.38),(1.80,-1.40),(1.60,-1.39),(1.45,-1.42),(1.29,-1.50),(1.09,-1.66),(0.87,-1.85),(0.67,-1.99),(0.42,-2.06),(0.20,-2.03),(-0.01,-1.91),(-0.26,-1.74),(-0.44,-1.67),(-0.58,-1.65),(-0.75,-1.67),(-0.92,-1.77),(-1.10,-1.90),(-1.26,-1.96),(-1.35,-1.97),(-1.48,-1.91),(-1.59,-1.79),(-1.70,-1.59),(-1.81,-1.29),(-1.90,-0.96),(-1.97,-0.56),(-2.04,-0.14),(-2.08,0.27),(-2.11,0.68),(-2.13,1.06),(-2.11,1.43),(-2.09,1.55)]
pf_contour_004 = [(-1.85,0.84),(-1.77,0.85),(-1.64,0.84),(-1.48,0.89),(-1.33,1.01),(-1.17,1.17),(-0.99,1.38),(-0.81,1.58),(-0.64,1.71),(-0.44,1.74),(-0.21,1.67),(0.00,1.57),(0.20,1.46),(0.40,1.39),(0.59,1.37),(0.80,1.41),(1.00,1.46),(1.14,1.48),(1.29,1.44),(1.42,1.32),(1.55,1.08),(1.67,0.78),(1.75,0.45),(1.79,0.15),(1.80,-0.14),(1.81,-0.28),(1.79,-0.49),(1.75,-0.66),(1.69,-0.73),(1.58,-0.82),(1.40,-0.92),(1.22,-1.06),(1.04,-1.24),(0.87,-1.42),(0.67,-1.59),(0.42,-1.66),(0.20,-1.63),(0.00,-1.52),(-0.19,-1.40),(-0.37,-1.31),(-0.57,-1.27),(-0.75,-1.30),(-0.95,-1.40),(-1.12,-1.50),(-1.29,-1.54),(-1.41,-1.50),(-1.52,-1.39),(-1.64,-1.19),(-1.73,-0.93),(-1.81,-0.58),(-1.90,-0.14),(-1.94,0.22),(-1.94,0.45),(-1.93,0.66),(-1.88,0.80)]
pf_contour_006 = [(-1.74,0.06),(-1.71,0.22),(-1.66,0.34),(-1.55,0.44),(-1.37,0.61),(-1.21,0.80),(-1.04,1.03),(-0.81,1.29),(-0.64,1.42),(-0.44,1.46),(-0.21,1.41),(0.00,1.28),(0.20,1.16),(0.42,1.08),(0.62,1.07),(0.86,1.10),(1.06,1.13),(1.22,1.09),(1.35,0.96),(1.49,0.71),(1.55,0.45),(1.59,0.13),(1.58,-0.14),(1.53,-0.28),(1.45,-0.44),(1.31,-0.61),(1.16,-0.79),(0.96,-1.03),(0.80,-1.19),(0.62,-1.31),(0.40,-1.36),(0.20,-1.31),(0.00,-1.24),(-0.19,-1.13),(-0.37,-1.04),(-0.59,-0.99),(-0.79,-1.04),(-1.04,-1.16),(-1.24,-1.20),(-1.37,-1.17),(-1.48,-1.06),(-1.59,-0.84),(-1.67,-0.56),(-1.73,-0.25),(-1.75,-0.10)]
pf_contour_008 = [(-1.47,0.03),(-1.35,0.27),(-1.17,0.54),(-0.97,0.80),(-0.79,1.06),(-0.61,1.18),(-0.44,1.21),(-0.21,1.15),(0.00,1.04),(0.20,0.94),(0.42,0.84),(0.62,0.80),(0.86,0.81),(1.02,0.80),(1.15,0.73),(1.24,0.64),(1.32,0.45),(1.35,0.22),(1.33,-0.01),(1.30,-0.14),(1.22,-0.30),(1.11,-0.49),(0.96,-0.70),(0.80,-0.89),(0.64,-1.00),(0.38,-1.10),(0.20,-1.06),(0.00,-0.99),(-0.19,-0.89),(-0.37,-0.79),(-0.59,-0.74),(-0.81,-0.79),(-1.01,-0.86),(-1.17,-0.89),(-1.30,-0.85),(-1.41,-0.70),(-1.49,-0.49),(-1.52,-0.25),(-1.52,-0.13)]
pf_contour_010 = [(-1.19,0.03),(-1.08,0.29),(-0.92,0.61),(-0.77,0.82),(-0.61,0.92),(-0.44,0.96),(-0.21,0.92),(0.00,0.79),(0.15,0.70),(0.37,0.57),(0.57,0.51),(0.78,0.47),(0.91,0.43),(1.02,0.31),(1.06,0.15),(1.05,-0.06),(1.01,-0.21),(0.91,-0.39),(0.75,-0.64),(0.62,-0.75),(0.47,-0.82),(0.33,-0.84),(0.18,-0.81),(0.00,-0.72),(-0.19,-0.63),(-0.37,-0.52),(-0.64,-0.49),(-0.84,-0.52),(-1.04,-0.55),(-1.17,-0.51),(-1.25,-0.37),(-1.26,-0.19)]
pf_contour_012 = [(-0.91,0.03),(-0.88,0.24),(-0.79,0.43),(-0.66,0.59),(-0.52,0.66),(-0.41,0.67),(-0.24,0.61),(0.00,0.46),(0.15,0.35),(0.35,0.22),(0.53,0.11),(0.62,0.03),(0.66,-0.08),(0.65,-0.21),(0.60,-0.34),(0.49,-0.44),(0.38,-0.49),(0.26,-0.51),(0.11,-0.48),(0.00,-0.44),(-0.19,-0.34),(-0.37,-0.27),(-0.52,-0.22),(-0.70,-0.17),(-0.84,-0.14),(-0.91,-0.04)]
pf_contours = [pf_contour_002, pf_contour_004, pf_contour_006, pf_contour_008, pf_contour_010, pf_contour_012]

W, H = 6293, 2695
plt.rcParams['font.family'] = 'DejaVu Sans'
fig = plt.figure(figsize=(W / 600, H / 600), dpi=600)


def axes_from_pixels(left, right, top, bottom):
    return fig.add_axes([left / W, (H - bottom) / H, (right - left) / W, (bottom - top) / H])


def closed_curve(points):
    # quadratic segments through the midpoints, keeps the outline smooth
    pts = np.array(points)
    mids = (pts + np.roll(pts, -1, axis=0)) / 2
    verts = [mids[-1]]
    codes = [Path.MOVETO]
    for p, m in zip(pts, mids):
        verts += [p, m]
        codes += [Path.CURVE3, Path.CURVE3]
    return Path(verts, codes)


def draw_bar(cax, levels):
    cmap = plt.get_cmap('turbo')
    top = levels[-1]
    cax.hlines(levels, 0, 1, colors=[cmap(l / top) for l in levels], lw=1.5, clip_on=False, zorder=2)
    cax.set_xlim(0, 1)
    cax.set_ylim(0, top)
    cax.set_xticks([])
    cax.yaxis.tick_right()
    cax.set_yticks(levels)
    cax.set_yticklabels(['%.2f' % l for l in levels])
    for s in cax.spines.values():
        s.set_zorder(3)


def draw_samples(ax, groups, label):
    pts = np.array(sum(groups, []))
    ax.scatter(pts[:, 0], pts[:, 1], s=7, linewidths=0, color='#363636', label=label, zorder=1)


turbo = plt.get_cmap('turbo')

# left: reference
ax1 = axes_from_pixels(243, 2438.6, 186, 2495)
draw_samples(ax1, [ref_upper_left, ref_upper_right, ref_lower_left, ref_lower_right], 'reference samples')
for lev, r in zip(ref_levels[1:-1], ref_radii):
    ax1.add_patch(Circle((0, 0), r, fill=False, ec=turbo(lev / ref_levels[-1]), lw=1.5, zorder=2))
ax1.set_xlim(-3, 3)
ax1.set_ylim(-3.15, 3.15)
ax1.set_yticks([-3, -2, -1, 0, 1, 2, 3])
ax1.set_title('Reference samples and reference pdf')
ax1.legend(loc='upper left')
draw_bar(axes_from_pixels(2577, 2692, 186, 2495), ref_levels)

# right: pushforward
ax2 = axes_from_pixels(3539, 5736, 186, 2495)
draw_samples(ax2, [pf_upper_left, pf_upper_right, pf_lower_left, pf_lower_right], 'pushforward samples')
for lev, outline in zip(pf_levels[1:], pf_contours):
    ax2.add_patch(PathPatch(closed_curve(outline), fill=False, ec=turbo(lev / pf_levels[-1]), lw=1.5, zorder=2))
ax2.set_xlim(-3.42, 3.42)
ax2.set_ylim(-3.76, 3.43)
ax2.set_xticks([-3, -2, -1, 0, 1, 2, 3])
ax2.set_yticks([-3, -2, -1, 0, 1, 2, 3])
ax2.set_title('Pushforward samples and pushforward pdf')
ax2.legend(loc='upper left')
draw_bar(axes_from_pixels(5875, 5990, 186, 2495), pf_levels)

fig.savefig('out.png', dpi=600)
